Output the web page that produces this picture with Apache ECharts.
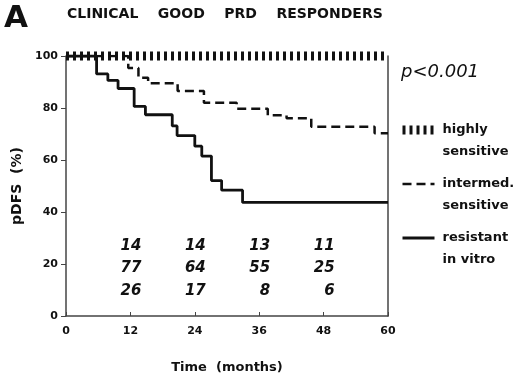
<!DOCTYPE html>
<html>
<head>
<meta charset="utf-8">
<script src="https://cdn.jsdelivr.net/npm/echarts@6/dist/echarts.min.js"></script>
<style>
  html, body { margin: 0; padding: 0; background: #fff; }
  #chart { width: 520px; height: 379px; }
</style>
</head>
<body>
<div id="chart"></div>
<script>
// Kaplan-Meier curves (months, pDFS %)
const highlyT = [0, 60];
const highlyS = [100, 100];

const intermedT = [0, 11.6, 13.5, 15.3, 20.8, 25.7, 31.8, 37.6, 41.1, 45.7, 57.5, 60];
const intermedS = [100, 95.4, 91.6, 89.5, 86.5, 82.0, 79.7, 77.2, 76.1, 72.8, 70.3, 70.3];

const resistantT = [0, 5.7, 7.8, 9.7, 12.7, 14.8, 19.8, 20.7, 24.0, 25.3, 27.1, 29.0, 32.9, 60];
const resistantS = [100, 93.1, 90.6, 87.5, 80.6, 77.4, 73.1, 69.4, 65.3, 61.5, 52.1, 48.4, 43.7, 43.7];

// patients at risk
const riskMonths = [12, 24, 36, 48];
const riskHighly = [14, 14, 13, 11];
const riskIntermed = [77, 64, 55, 25];
const riskResistant = [26, 17, 8, 6];

const seriesNames = ['highly sensitive', 'intermed. sensitive', 'resistant in vitro'];
const xTicks = [0, 12, 24, 36, 48, 60];

const FONT = 'DejaVu Sans';
const INK = '#111';

function pairs(xs, ys) {
    return xs.map(function (x, i) { return [x, ys[i]]; });
}

// one row of at-risk numbers, placed at a fixed height in the plot
function riskRow(values, rowY) {
    return {
        type: 'scatter',
        symbolSize: 0,
        silent: true,
        itemStyle: { opacity: 1, color: INK },
        data: riskMonths.map(function (m, i) { return [m, rowY, values[i]]; }),
        label: {
            show: true,
            position: 'inside',
            align: 'right',
            offset: [11, 0],
            formatter: function (p) { return p.data[2]; },
            fontFamily: FONT,
            fontStyle: 'italic',
            fontWeight: 'bold',
            fontSize: 15,
            color: INK
        }
    };
}

let myChart;
function draw() {
    let option = {
        animation: false,
        backgroundColor: '#fff',
        title: [
            { text: 'A', left: -1, top: -2, textStyle: { fontFamily: FONT, fontWeight: 'bold', fontSize: 31, color: INK } },
            { text: 'CLINICAL    GOOD    PRD    RESPONDERS', left: 62, top: 2, textStyle: { fontFamily: FONT, fontWeight: 'bold', fontSize: 14, color: INK } },
            { text: 'p<0.001', left: 396, top: 58, textStyle: { fontFamily: FONT, fontStyle: 'italic', fontWeight: 'normal', fontSize: 18, color: INK } }
        ],
        grid: { left: 66, right: 132, top: 56, bottom: 57 },
        legend: {
            orient: 'vertical',
            left: 393,
            top: 92,
            itemWidth: 32,
            itemHeight: 12,
            itemGap: -12,
            data: seriesNames,
            formatter: function (name) { return ' \n' + name.replace(' ', '\n'); },
            lineStyle: { width: 'inherit' },
            itemStyle: { opacity: 0 },
            textStyle: {
                fontFamily: FONT, fontWeight: 'bold', fontSize: 13, color: INK,
                lineHeight: 22, padding: [0, 0, 0, 3]
            }
        },
        xAxis: {
            type: 'value',
            min: 0,
            max: 60,
            interval: 12,
            name: 'Time  (months)',
            nameLocation: 'middle',
            nameGap: 45,
            nameTextStyle: { fontFamily: FONT, fontWeight: 'bold', fontSize: 13, color: INK },
            axisLine: { lineStyle: { color: '#444', width: 1.5 } },
            axisTick: { inside: true, length: 4, lineStyle: { color: '#444' } },
            axisLabel: {
                margin: 10, fontFamily: FONT, fontWeight: 'bold', fontSize: 11, color: INK,
                formatter: function (v) { return xTicks.indexOf(v) >= 0 ? v : ''; }
            },
            splitLine: { show: false }
        },
        yAxis: [{
            type: 'value',
            min: 0,
            max: 100,
            interval: 20,
            name: 'pDFS  (%)',
            nameLocation: 'middle',
            nameGap: 38,
            nameTextStyle: { fontFamily: FONT, fontWeight: 'bold', fontSize: 14, color: INK },
            axisLine: { show: true, lineStyle: { color: '#444', width: 1.5 } },
            axisTick: { show: true, length: 5, lineStyle: { color: '#444' } },
            axisLabel: { margin: 8, fontFamily: FONT, fontWeight: 'bold', fontSize: 11, color: INK },
            splitLine: { show: false }
        }, {
            type: 'value',
            min: 0,
            max: 100,
            position: 'right',
            axisLine: { show: true, lineStyle: { color: '#444', width: 1.5 } },
            axisTick: { show: false },
            axisLabel: { show: false },
            splitLine: { show: false }
        }],
        series: [
            {
                name: seriesNames[1],
                type: 'line',
                step: 'end',
                symbol: 'none',
                data: pairs(intermedT, intermedS),
                lineStyle: { color: INK, width: 2.5, type: [9, 5] },
                itemStyle: { color: INK }
            },
            {
                name: seriesNames[2],
                type: 'line',
                step: 'end',
                symbol: 'none',
                data: pairs(resistantT, resistantS),
                lineStyle: { color: INK, width: 2.8 },
                itemStyle: { color: INK }
            },
            {
                name: seriesNames[0],
                type: 'line',
                symbol: 'none',
                clip: false,
                z: 5,
                data: pairs(highlyT, highlyS),
                lineStyle: { color: INK, width: 9, type: [3, 4] },
                itemStyle: { color: INK }
            },
            riskRow(riskHighly, 27),
            riskRow(riskIntermed, 18.4),
            riskRow(riskResistant, 9.4)
        ]
    };

    myChart = echarts.init(document.getElementById('chart'));
    myChart.setOption(option);

    window.addEventListener('resize', function () {
        myChart.resize();
    }, false);
}

draw();
</script>
</body>
</html>
